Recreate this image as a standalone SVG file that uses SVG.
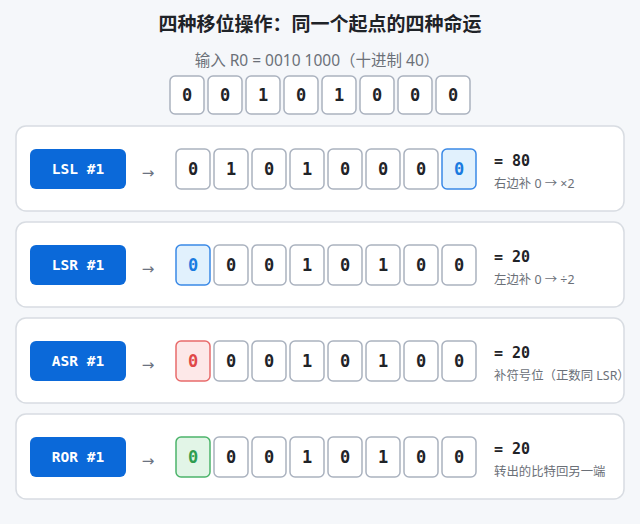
<svg xmlns="http://www.w3.org/2000/svg" width="640" height="524" viewBox="0 0 640 524">
<defs>
<style>
.bg{fill:#f5f7fa}
.card{fill:#ffffff;stroke:#d8dce2;stroke-width:1.5}
.btn{fill:#0b69d9}
.btntxt{font-family:"DejaVu Sans Mono",monospace;font-weight:bold;font-size:14.5px;fill:#ffffff;text-anchor:middle}
.arrow{font-family:"DejaVu Sans","Noto Sans",sans-serif;font-size:15px;fill:#6b7280;text-anchor:middle}
.bit{fill:#ffffff;stroke:#aab2bf;stroke-width:1.5}
.bittxt{font-family:"DejaVu Sans Mono",monospace;font-weight:bold;font-size:17px;fill:#1f2328;text-anchor:middle}
.hb{fill:#e1f1fd;stroke:#3a89e6}
.hbt{fill:#1a7be0}
.hr{fill:#fde8e8;stroke:#e86b6b}
.hrt{fill:#e04848}
.hg{fill:#e2f5e7;stroke:#4cb46b}
.hgt{fill:#2f9d50}
.res{font-family:"DejaVu Sans Mono",monospace;font-weight:bold;font-size:15px;fill:#1f2328}
.note{font-family:"Noto Sans","Noto Sans CJK SC",sans-serif;font-size:12.4px;fill:#6b7078}
.title{font-family:"Noto Sans CJK SC","Noto Sans",sans-serif;font-weight:bold;font-size:19px;fill:#1f2328;text-anchor:middle}
.sub{font-family:"Noto Sans","Noto Sans CJK SC",sans-serif;font-size:15.5px;fill:#6b7078;text-anchor:middle}
</style>
</defs>
<rect class="bg" x="0" y="0" width="640" height="524"/>
<g id="header">
<text class="title" x="320" y="31">四种移位操作：同一个起点的四种命运</text>
<text class="sub" x="317" y="66">输入 R0 = 0010 1000（十进制 40）</text>
</g>
<g id="input-bits">
<rect class="bit" x="170" y="76" width="34" height="38" rx="5"/><text class="bittxt" x="187" y="101">0</text>
<rect class="bit" x="208" y="76" width="34" height="38" rx="5"/><text class="bittxt" x="225" y="101">0</text>
<rect class="bit" x="246" y="76" width="34" height="38" rx="5"/><text class="bittxt" x="263" y="101">1</text>
<rect class="bit" x="284" y="76" width="34" height="38" rx="5"/><text class="bittxt" x="301" y="101">0</text>
<rect class="bit" x="322" y="76" width="34" height="38" rx="5"/><text class="bittxt" x="339" y="101">1</text>
<rect class="bit" x="360" y="76" width="34" height="38" rx="5"/><text class="bittxt" x="377" y="101">0</text>
<rect class="bit" x="398" y="76" width="34" height="38" rx="5"/><text class="bittxt" x="415" y="101">0</text>
<rect class="bit" x="436" y="76" width="34" height="38" rx="5"/><text class="bittxt" x="453" y="101">0</text>
</g>
<g id="connectors"></g>
<g id="lsl">
<rect class="card" x="16" y="126" width="608" height="85" rx="10"/>
<rect class="btn" x="30" y="149" width="96" height="40" rx="6"/>
<text class="btntxt" x="78" y="174">LSL #1</text>
<text class="arrow" x="148" y="178">→</text>
<rect class="bit" x="176" y="149" width="34" height="40" rx="5"/><text class="bittxt" x="193" y="175">0</text>
<rect class="bit" x="214" y="149" width="34" height="40" rx="5"/><text class="bittxt" x="231" y="175">1</text>
<rect class="bit" x="252" y="149" width="34" height="40" rx="5"/><text class="bittxt" x="269" y="175">0</text>
<rect class="bit" x="290" y="149" width="34" height="40" rx="5"/><text class="bittxt" x="307" y="175">1</text>
<rect class="bit" x="328" y="149" width="34" height="40" rx="5"/><text class="bittxt" x="345" y="175">0</text>
<rect class="bit" x="366" y="149" width="34" height="40" rx="5"/><text class="bittxt" x="383" y="175">0</text>
<rect class="bit" x="404" y="149" width="34" height="40" rx="5"/><text class="bittxt" x="421" y="175">0</text>
<rect class="bit hb" x="442" y="149" width="34" height="40" rx="5"/><text class="bittxt hbt" x="459" y="175">0</text>
<text class="res" x="494" y="166">= 80</text>
<text class="note" x="494" y="188">右边补 0 → ×2</text>
</g>
<g id="lsr">
<rect class="card" x="16" y="222" width="608" height="85" rx="10"/>
<rect class="btn" x="30" y="245" width="96" height="40" rx="6"/>
<text class="btntxt" x="78" y="270">LSR #1</text>
<text class="arrow" x="148" y="274">→</text>
<rect class="bit hb" x="176" y="245" width="34" height="40" rx="5"/><text class="bittxt hbt" x="193" y="271">0</text>
<rect class="bit" x="214" y="245" width="34" height="40" rx="5"/><text class="bittxt" x="231" y="271">0</text>
<rect class="bit" x="252" y="245" width="34" height="40" rx="5"/><text class="bittxt" x="269" y="271">0</text>
<rect class="bit" x="290" y="245" width="34" height="40" rx="5"/><text class="bittxt" x="307" y="271">1</text>
<rect class="bit" x="328" y="245" width="34" height="40" rx="5"/><text class="bittxt" x="345" y="271">0</text>
<rect class="bit" x="366" y="245" width="34" height="40" rx="5"/><text class="bittxt" x="383" y="271">1</text>
<rect class="bit" x="404" y="245" width="34" height="40" rx="5"/><text class="bittxt" x="421" y="271">0</text>
<rect class="bit" x="442" y="245" width="34" height="40" rx="5"/><text class="bittxt" x="459" y="271">0</text>
<text class="res" x="494" y="262">= 20</text>
<text class="note" x="494" y="284">左边补 0 → ÷2</text>
</g>
<g id="asr">
<rect class="card" x="16" y="318" width="608" height="85" rx="10"/>
<rect class="btn" x="30" y="341" width="96" height="40" rx="6"/>
<text class="btntxt" x="78" y="366">ASR #1</text>
<text class="arrow" x="148" y="370">→</text>
<rect class="bit hr" x="176" y="341" width="34" height="40" rx="5"/><text class="bittxt hrt" x="193" y="367">0</text>
<rect class="bit" x="214" y="341" width="34" height="40" rx="5"/><text class="bittxt" x="231" y="367">0</text>
<rect class="bit" x="252" y="341" width="34" height="40" rx="5"/><text class="bittxt" x="269" y="367">0</text>
<rect class="bit" x="290" y="341" width="34" height="40" rx="5"/><text class="bittxt" x="307" y="367">1</text>
<rect class="bit" x="328" y="341" width="34" height="40" rx="5"/><text class="bittxt" x="345" y="367">0</text>
<rect class="bit" x="366" y="341" width="34" height="40" rx="5"/><text class="bittxt" x="383" y="367">1</text>
<rect class="bit" x="404" y="341" width="34" height="40" rx="5"/><text class="bittxt" x="421" y="367">0</text>
<rect class="bit" x="442" y="341" width="34" height="40" rx="5"/><text class="bittxt" x="459" y="367">0</text>
<text class="res" x="494" y="358">= 20</text>
<text class="note" x="494" y="380">补符号位（正数同 LSR）</text>
</g>
<g id="ror">
<rect class="card" x="16" y="414" width="608" height="85" rx="10"/>
<rect class="btn" x="30" y="437" width="96" height="40" rx="6"/>
<text class="btntxt" x="78" y="462">ROR #1</text>
<text class="arrow" x="148" y="466">→</text>
<rect class="bit hg" x="176" y="437" width="34" height="40" rx="5"/><text class="bittxt hgt" x="193" y="463">0</text>
<rect class="bit" x="214" y="437" width="34" height="40" rx="5"/><text class="bittxt" x="231" y="463">0</text>
<rect class="bit" x="252" y="437" width="34" height="40" rx="5"/><text class="bittxt" x="269" y="463">0</text>
<rect class="bit" x="290" y="437" width="34" height="40" rx="5"/><text class="bittxt" x="307" y="463">1</text>
<rect class="bit" x="328" y="437" width="34" height="40" rx="5"/><text class="bittxt" x="345" y="463">0</text>
<rect class="bit" x="366" y="437" width="34" height="40" rx="5"/><text class="bittxt" x="383" y="463">1</text>
<rect class="bit" x="404" y="437" width="34" height="40" rx="5"/><text class="bittxt" x="421" y="463">0</text>
<rect class="bit" x="442" y="437" width="34" height="40" rx="5"/><text class="bittxt" x="459" y="463">0</text>
<text class="res" x="494" y="454">= 20</text>
<text class="note" x="494" y="476">转出的比特回另一端</text>
</g>
</svg>
